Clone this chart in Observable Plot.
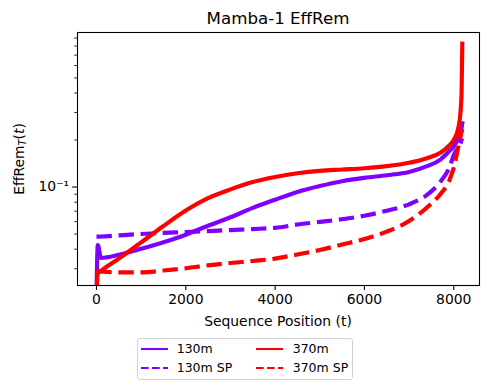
<!DOCTYPE html>
<html><head><meta charset="utf-8">
<script src="https://cdn.jsdelivr.net/npm/d3@7"></script>
<script src="https://cdn.jsdelivr.net/npm/@observablehq/plot@0.6"></script>
<style>
html,body{margin:0;padding:0;background:#fff;}
#wrap{position:relative;width:489px;height:390px;background:#fff;font-family:"DejaVu Sans",sans-serif;color:#000;overflow:hidden;}
#wrap > svg{position:absolute;left:0;top:0;}
.title{position:absolute;left:77px;width:402px;top:9px;text-align:center;font-size:16.67px;line-height:20px;white-space:nowrap;}
.xlabel{position:absolute;left:77px;width:402px;top:313px;text-align:center;font-size:13.9px;line-height:16px;white-space:nowrap;}
.ylabel{position:absolute;left:19px;top:158.5px;transform:translate(-50%,-50%) rotate(-90deg);font-size:13.9px;line-height:18px;white-space:nowrap;}
.ylabel sub{font-size:0.7em;vertical-align:-0.25em;line-height:0;}
.legend{position:absolute;left:137px;top:338px;width:216px;height:42px;box-sizing:border-box;border:1px solid #d4d4d4;border-radius:3px;background:#fff;font-size:12.5px;}
.legend .item{position:absolute;height:16px;line-height:16px;white-space:nowrap;}
.legend svg{position:absolute;overflow:visible;}
</style></head>
<body>
<div id="wrap">
  <div class="title">Mamba-1 EffRem</div>
  <div class="ylabel">EffRem<sub><i>T</i></sub>(<i>t</i>)</div>
  <div class="xlabel">Sequence Position (t)</div>
  <div class="legend" id="legend"></div>
</div>
<script>
// Sequence positions (shared grid)
const positions = [0, 30, 100, 500, 1000, 1500, 2000, 2500, 3000, 3500, 4000, 4500, 5000, 5500, 6000, 6500, 7000, 7400, 7700, 7900, 8000, 8100, 8150, 8175, 8191];
// Series values (EffRem_T(t)); first value lies below the visible range
const m130   = [0.020, 0.0425, 0.0352, 0.0368, 0.0402, 0.0443, 0.0495, 0.0565, 0.0640, 0.0735, 0.0830, 0.0930, 0.1015, 0.1090, 0.1145, 0.1190, 0.1250, 0.1360, 0.1500, 0.1700, 0.1820, 0.2050, 0.2250, 0.2400, 0.2560];
const m130sp = [0.0481, 0.0481, 0.0482, 0.0490, 0.0500, 0.0508, 0.0515, 0.0522, 0.0530, 0.0538, 0.0548, 0.0575, 0.0598, 0.0622, 0.0655, 0.0705, 0.0775, 0.0890, 0.1080, 0.1330, 0.1600, 0.1800, 0.1900, 0.2000, 0.2050];
const m370   = [0.020, 0.0279, 0.0290, 0.0348, 0.0442, 0.0563, 0.0707, 0.0849, 0.0966, 0.1077, 0.1160, 0.1225, 0.1270, 0.1295, 0.1320, 0.1360, 0.1430, 0.1530, 0.1660, 0.1850, 0.2000, 0.2380, 0.3000, 0.4000, 0.8280];
const m370sp = [0.0293, 0.0292, 0.0288, 0.0284, 0.0284, 0.0292, 0.0302, 0.0315, 0.0326, 0.0336, 0.0348, 0.0370, 0.0395, 0.0428, 0.0465, 0.0518, 0.0605, 0.0740, 0.0900, 0.1100, 0.1330, 0.1800, 0.2100, 0.2250, 0.2350];

const seriesNames = ["130m", "130m SP", "370m", "370m SP"];
const xTicks = [0, 2000, 4000, 6000, 8000];
const yMajor = [0.1];
const yMajorLabels = ["10⁻¹"];
const yMinor = [0.03, 0.04, 0.05, 0.06, 0.07, 0.08, 0.09, 0.2, 0.3, 0.4, 0.5, 0.6, 0.7, 0.8, 0.9];

const PURPLE = "#7f00ff", RED = "#ff0000";
const series = [
  {name: seriesNames[0], values: m130,   color: PURPLE, dashed: false},
  {name: seriesNames[1], values: m130sp, color: PURPLE, dashed: true},
  {name: seriesNames[2], values: m370,   color: RED,    dashed: false},
  {name: seriesNames[3], values: m370sp, color: RED,    dashed: true}
];
const rows = series.flatMap(s => positions.map((t, i) => ({t, v: s.values[i], name: s.name})));

const lineMarks = series.map(s => Plot.line(rows.filter(d => d.name === s.name), {
  x: "t", y: "v", stroke: s.color, strokeWidth: 4.17, curve: "monotone-x",
  strokeDasharray: s.dashed ? "15.4,6.7" : null,
  strokeLinecap: s.dashed ? "butt" : "square",
  strokeLinejoin: "round", clip: true
}));

const chart = Plot.plot({
  width: 489, height: 325,
  marginTop: 32, marginRight: 10, marginBottom: 40, marginLeft: 77,
  style: {fontFamily: "DejaVu Sans", fontSize: "13.9px", color: "black", background: "white", overflow: "visible"},
  x: {domain: [-425, 8576]},
  y: {type: "log", domain: [0.0234, 0.977]},
  marks: [
    ...lineMarks,
    Plot.frame({stroke: "black", strokeWidth: 1.1}),
    Plot.axisX(xTicks, {tickSize: 4.9, tickPadding: 3.5, strokeWidth: 1.1, label: null, tickFormat: d => String(d)}),
    Plot.axisY(yMinor, {tickSize: 2.8, strokeWidth: 0.83, label: null, tickFormat: () => ""}),
    Plot.axisY(yMajor, {tickSize: 4.9, tickPadding: 3.5, strokeWidth: 1.1, label: null, tickFormat: d => yMajorLabels[yMajor.indexOf(d)] ?? "10⁻¹"})
  ]
});
document.getElementById("wrap").prepend(chart);

// Legend (2 columns, column-major like the reference)
const legend = document.getElementById("legend");
const cols = [{hx: 3, tx: 38.7}, {hx: 118, tx: 154.7}];
const rowsY = [10, 28.7];
series.forEach((s, i) => {
  const c = cols[Math.floor(i / 2)], r = rowsY[i % 2];
  const svgNS = "http://www.w3.org/2000/svg";
  const sv = document.createElementNS(svgNS, "svg");
  sv.setAttribute("width", 27); sv.setAttribute("height", 6);
  sv.style.left = c.hx + "px"; sv.style.top = (r - 3) + "px";
  const ln = document.createElementNS(svgNS, "line");
  ln.setAttribute("x1", 0); ln.setAttribute("x2", 27);
  ln.setAttribute("y1", 3); ln.setAttribute("y2", 3);
  ln.setAttribute("stroke", s.color); ln.setAttribute("stroke-width", 2.1);
  if (s.dashed) ln.setAttribute("stroke-dasharray", "7.7,3.3");
  sv.appendChild(ln);
  legend.appendChild(sv);
  const tx = document.createElement("div");
  tx.className = "item";
  tx.textContent = s.name;
  tx.style.left = c.tx + "px"; tx.style.top = (r - 8) + "px";
  legend.appendChild(tx);
});
</script>
</body></html>
